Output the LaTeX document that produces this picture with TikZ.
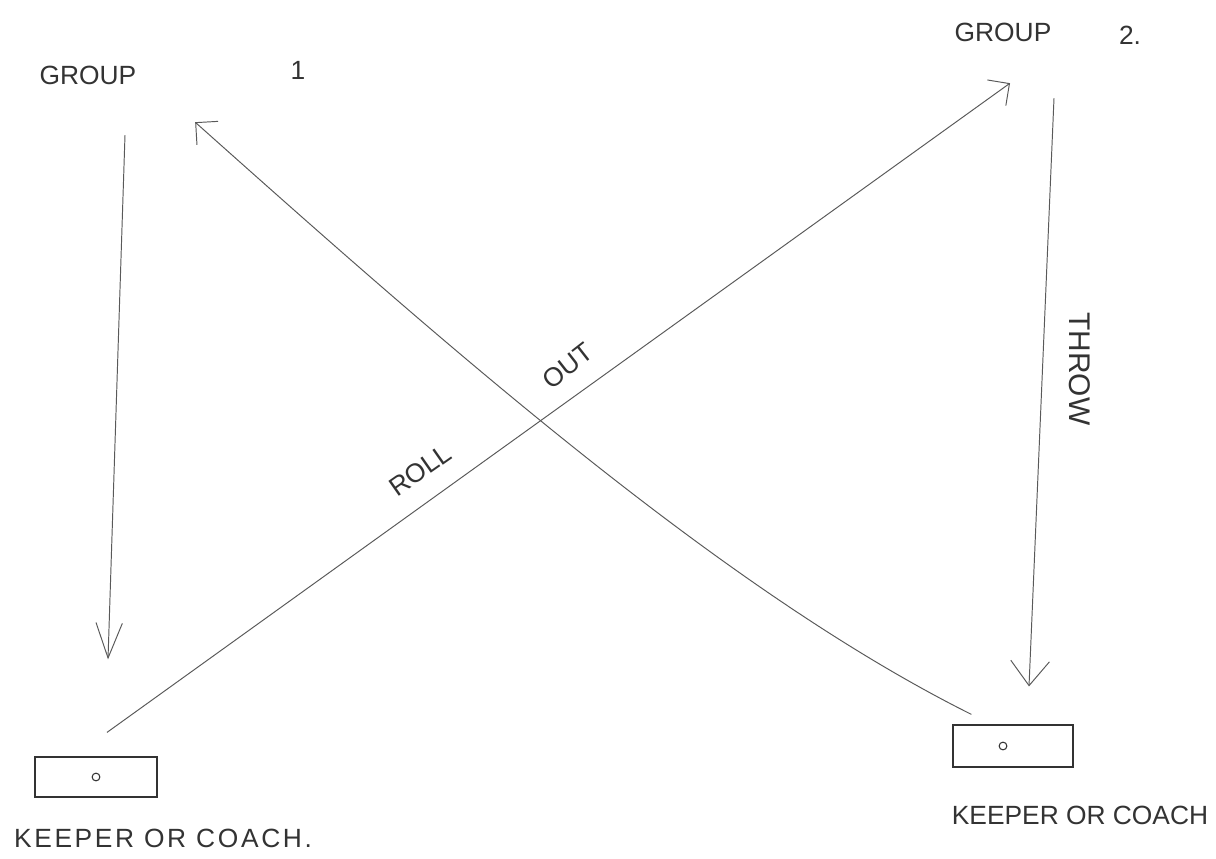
\documentclass[tikz,border=0pt]{standalone}
\usepackage{fontspec}
\setmainfont{Liberation Sans}
\usetikzlibrary{arrows.meta,calc}
\tikzset{
  hand/.style={font=\fontsize{15}{18}\selectfont, text=black!80, inner sep=2pt},
  keeperbox/.style={draw=black!80, line width=0.7pt, minimum width=#1, minimum height=0.8cm, inner sep=0pt},
  pass/.style={draw=black!65, line width=0.55pt, -{Straight Barb[length=9pt,width=18pt]}},
  drop/.style={draw=black!65, line width=0.55pt, -{Straight Barb[length=#1]}},
}

\begin{document}
\begin{tikzpicture}[x=0.02cm, y=-0.02cm]

  \fill[white] (0,0) rectangle (1216,858);
  \useasboundingbox (0,0) rectangle (1216,858);

  % The groups
  \node[hand] (group1) at (88,75) {GROUP};
  \node[hand] (group1num) at (298,70) {1};
  \node[hand] (group2) at (1003,32) {GROUP};
  \node[hand] (group2num) at (1130,35) {2.};

  % Keepers
  \node[keeperbox=2.44cm] (keeper1) at (96,777) {};
  \node[keeperbox=2.4cm, minimum height=0.84cm] (keeper2) at (1013,746) {};
  \draw[black!80, line width=0.6pt] (keeper1.center) circle (2.2pt);
  \draw[black!80, line width=0.6pt] ([xshift=-0.2cm]keeper2.center) circle (2.2pt);

  \node[hand] (keeper1lbl) at (163,838) {\addfontfeature{LetterSpace=10}KEEPER OR COACH.};
  \node[hand] (keeper2lbl) at (1080,815) {KEEPER OR COACH};

  % Runs down to the keepers
  \draw[drop={20pt,width=15pt}]
    ([xshift=0.74cm, yshift=-0.94cm]group1.south) -- ([xshift=0.24cm, yshift=1.94cm]keeper1.north);
  \draw[drop={14pt,width=22pt}]
    ([xshift=1.02cm, yshift=-1.06cm]group2.south) -- ([xshift=0.32cm, yshift=0.76cm]keeper2.north);
  \node[hand, font=\fontsize{17}{20}\selectfont, rotate=-90] (throwlbl) at (1080,369) {THROW};

  % Balls back to the groups
  \draw[pass] ([xshift=0.22cm, yshift=0.48cm]keeper1.north)
    -- ([xshift=0.14cm, yshift=-0.76cm]group2.south);
  \draw[pass] ([xshift=0.38cm, yshift=0.2cm]keeper2.north west)
    .. controls (722,590) and (445,345) .. ([xshift=1.1cm, yshift=-0.68cm]group1.south east);

  \node[hand, inner sep=0pt, rotate=35] (rolllbl) at (420,470) {ROLL};
  \node[hand, inner sep=0pt, rotate=38] (outlbl) at (568,366) {OUT};

\end{tikzpicture}
\end{document}
